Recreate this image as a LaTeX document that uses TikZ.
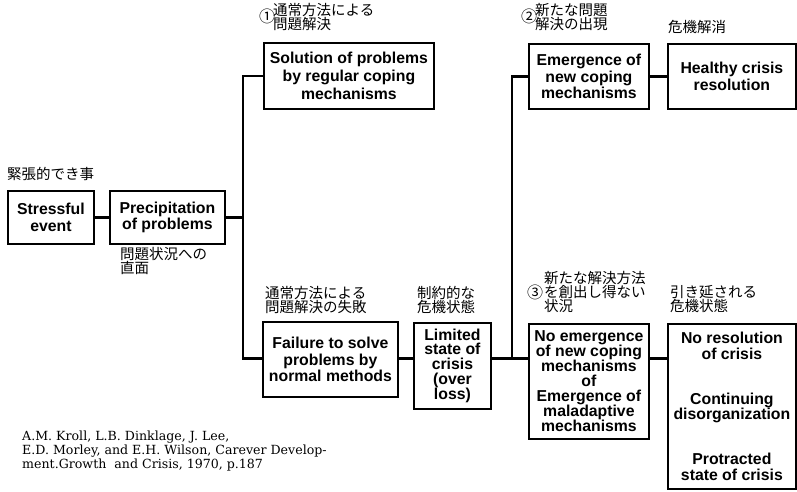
\documentclass[tikz,border=0pt]{standalone}
\usepackage{fontspec}
\setmainfont{DejaVu Serif}
\newfontfamily\boxfont{Liberation Sans}
\newfontfamily\jp{Noto Sans CJK JP}
\begin{document}
\begin{tikzpicture}[x=1pt,y=-1pt,
  box/.style={draw, line width=1.8pt, align=center, inner sep=0pt, anchor=north west,
    font=\boxfont\bfseries\fontsize{15.8}{16.7}\selectfont},
  link/.style={line width=2.6pt, line join=miter},
  jlab/.style={anchor=west, inner sep=0pt, align=left, font=\jp\fontsize{14.5}{14}\selectfont},
  circ/.style={inner sep=0pt, font=\jp\fontsize{16}{16}\selectfont}]
\useasboundingbox (0,0) rectangle (797,491);
% boxes
\node[box, minimum width=86pt, minimum height=53pt] (stress) at (7,190) {Stressful\\event};
\node[box, minimum width=115pt, minimum height=53pt] (precip) at (109,190) {Precipitation\\of problems};
\node[box, minimum width=170pt, minimum height=66pt, font=\boxfont\bfseries\fontsize{15.8}{18.3}\selectfont] (sol) at (263,42) {Solution of problems\\by regular coping\\mechanisms};
\node[box, minimum width=135pt, minimum height=75pt] (fail) at (262,321) {Failure to solve\\problems by\\normal methods};
\node[box, minimum width=77pt, minimum height=86pt, font=\boxfont\bfseries\fontsize{15.8}{14.7}\selectfont] (lim) at (413,322) {Limited\\state of\\crisis\\(over\\loss)};
\node[box, minimum width=120pt, minimum height=65pt] (emer) at (528,43) {Emergence of\\new coping\\mechanisms};
\node[box, minimum width=128pt, minimum height=65pt] (heal) at (667,43) {Healthy crisis\\resolution};
\node[box, minimum width=120pt, minimum height=115pt, font=\boxfont\bfseries\fontsize{15.8}{15}\selectfont] (noem) at (528,323) {No emergence\\of new coping\\mechanisms\\of\\Emergence of\\maladaptive\\mechanisms};
\node[box, minimum width=128pt, minimum height=165pt, font=\boxfont\bfseries\fontsize{15.8}{15.5}\selectfont] (nores) at (667,323) {No resolution\\of crisis\\[29.5pt]Continuing\\disorganization\\[29.5pt]Protracted\\state of crisis};
% Japanese labels
\node[jlab] (l0) at (7,174) {緊張的でき事};
\node[jlab] (l1) at (273,17) {通常方法による\\問題解決};
\node[circ] (c1) at (267,16) {①};
\node[jlab] (l2) at (535,17.5) {新たな問題\\解決の出現};
\node[circ] (c2) at (529,16) {②};
\node[jlab] (l3) at (668,27) {危機解消};
\node[jlab] (l4) at (120,260.5) {問題状況への\\直面};
\node[jlab] (l5) at (265,299.5) {通常方法による\\問題解決の失敗};
\node[jlab] (l6) at (417,299.5) {制約的な\\危機状態};
\node[jlab] (l7) at (544,291.5) {新たな解決方法\\を創出し得ない\\状況};
\node[circ] (c3) at (535,292) {③};
\node[jlab] (l8) at (670,299) {引き延される\\危機状態};
% citation
\node[anchor=north west, inner sep=0pt, align=left, font=\fontsize{12.6}{14}\selectfont] (cite) at (22,431)
  {A.M. Kroll, L.B. Dinklage, J. Lee,\\E.D. Morley, and E.H. Wilson, Carever Develop-\\ment.Growth\ \ and Crisis, 1970, p.187};
% connectors
\coordinate (trunkA) at (243,0);
\coordinate (trunkB) at (512,0);
\coordinate (row2) at (0,358.5);
\draw[link] (stress.east) -- (precip.west);
\draw[link] (precip.east) -- (precip.east -| trunkA);
\draw[link] (sol.west) -- (sol.west -| trunkA) -- (row2 -| trunkA) -- (row2 -| fail.west);
\draw[link] (row2 -| fail.east) -- (row2 -| lim.west);
\draw[link] (emer.west) -- (emer.west -| trunkB) -- (row2 -| trunkB) -- (row2 -| noem.west);
\draw[link] (row2 -| lim.east) -- (row2 -| trunkB);
\draw[link] (emer.east) -- (heal.west);
\draw[link] (row2 -| noem.east) -- (row2 -| nores.west);
\end{tikzpicture}
\end{document}
